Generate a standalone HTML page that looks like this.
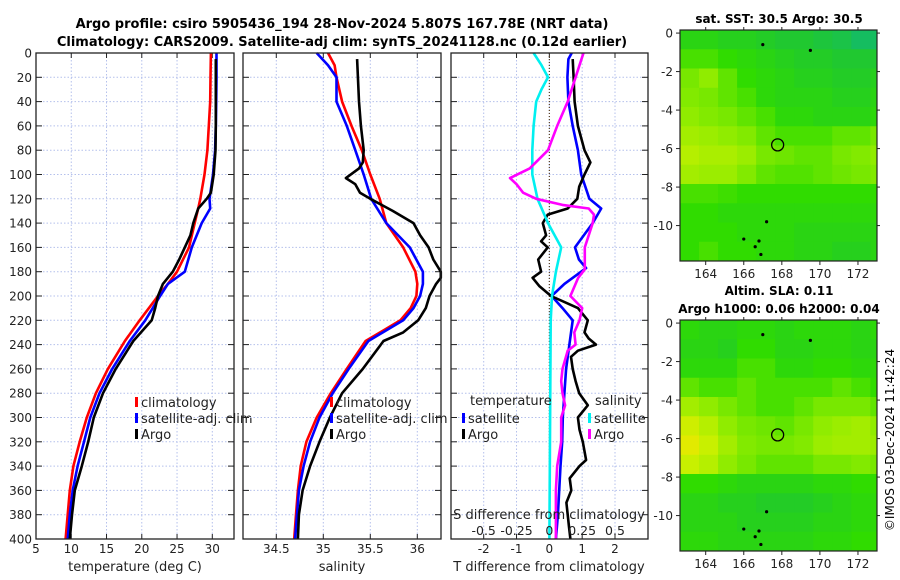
<!DOCTYPE html>
<html><head><meta charset="utf-8"><style>
html,body{margin:0;padding:0;background:#fff;}
svg{display:block;font-family:"DejaVu Sans","Liberation Sans",sans-serif;}
</style></head><body>
<svg id="fig" width="900" height="580" viewBox="0 0 900 580" xmlns="http://www.w3.org/2000/svg">
<text x="342" y="28" text-anchor="middle" font-size="13" font-weight="bold">Argo profile: csiro 5905436_194 28-Nov-2024 5.807S 167.78E (NRT data)</text>
<text x="342" y="46" text-anchor="middle" font-size="13" font-weight="bold">Climatology: CARS2009. Satellite-adj clim: synTS_20241128.nc (0.12d earlier)</text>
<text x="779" y="23" text-anchor="middle" font-size="12" font-weight="bold">sat. SST: 30.5 Argo: 30.5</text>
<text x="779" y="295" text-anchor="middle" font-size="12" font-weight="bold">Altim. SLA: 0.11</text>
<text x="779" y="313" text-anchor="middle" font-size="12" font-weight="bold">Argo h1000: 0.06 h2000: 0.04</text>
<text transform="translate(894,440) rotate(-90)" text-anchor="middle" font-size="12">©IMOS 03-Dec-2024 11:42:24</text>
<g id="plots"></g>
</svg>
<script>
// ---- data ----
const depthClimT = [0,20,40,60,80,100,120,128,140,160,180,190,200,220,237,260,280,300,320,340,360,380,400];
const tempClim = [29.8,29.75,29.7,29.5,29.3,28.9,28.3,28.0,27.5,26.7,25.0,23.7,22.3,19.7,17.6,15.2,13.5,12.2,11.2,10.3,9.8,9.5,9.2];
const tempSat = [30.6,30.6,30.55,30.5,30.4,30.1,29.6,29.7,28.5,27.1,26.1,23.7,22.6,20.5,18.3,15.8,14.0,12.7,11.8,10.9,10.2,9.8,9.5];
const depthArgoT = [5,20,40,60,80,100,115,120,128,140,150,160,170,180,190,200,210,220,237,260,280,300,320,340,360,380,400];
const tempArgo = [30.5,30.5,30.5,30.5,30.45,30.2,29.8,29.2,28.0,27.3,26.9,26.1,25.3,24.4,23.0,22.3,21.9,21.4,18.8,16.3,14.5,13.2,12.4,11.5,10.5,10.1,9.8];

const depthClimS = [0,10,20,40,60,80,100,120,140,160,180,190,200,210,220,237,260,280,300,320,340,360,380,400];
const salClim = [35.05,35.12,35.14,35.2,35.3,35.41,35.5,35.6,35.67,35.85,35.98,36.0,35.99,35.93,35.82,35.45,35.25,35.08,34.93,34.82,34.76,34.73,34.71,34.69];
const salSat = [34.93,35.05,35.14,35.14,35.25,35.34,35.43,35.51,35.67,35.92,36.06,36.06,36.03,35.96,35.85,35.48,35.27,35.1,34.96,34.86,34.79,34.74,34.72,34.70];
const depthArgoS = [5,40,60,80,90,95,103,108,115,120,130,140,150,160,170,180,185,190,200,210,220,230,237,260,280,300,320,340,360,380,400];
const salArgo = [35.36,35.38,35.4,35.43,35.42,35.38,35.24,35.34,35.39,35.5,35.74,35.96,36.03,36.12,36.17,36.25,36.25,36.2,36.13,36.09,36.01,35.85,35.64,35.42,35.2,35.07,34.96,34.86,34.78,34.74,34.73];

const depthSatDT = [0,5,20,40,60,80,100,120,128,140,160,170,177,190,200,210,220,240,260,280,300,320,340,360,380,400];
const satDT = [0.68,0.58,0.55,0.58,0.71,0.87,0.97,1.22,1.58,1.32,0.78,0.9,1.12,0.46,0.07,0.4,0.71,0.61,0.51,0.46,0.41,0.39,0.34,0.3,0.26,0.2];
const depthArgoDT = [5,20,40,60,80,90,100,110,120,128,133,140,150,155,160,170,180,185,192,200,210,220,230,235,240,245,250,260,270,280,290,300,310,320,335,340,350,360,370,380,390,400];
const argoDT = [0.71,0.74,0.77,0.87,1.07,1.25,1.07,0.91,0.85,0.56,-0.05,-0.2,-0.1,-0.25,-0.05,-0.34,-0.25,-0.51,-0.3,0.05,0.87,1.17,1.07,1.2,1.42,0.87,0.66,0.71,0.8,0.91,1.17,0.87,0.92,1.02,1.12,0.92,0.62,0.67,0.52,0.56,0.6,0.64];
const depthSatDS = [0,10,20,30,40,60,80,100,120,140,160,180,200,220,400];
const satDS = [-0.12,-0.06,-0.01,-0.06,-0.1,-0.12,-0.13,-0.13,-0.09,-0.01,0.09,0.05,0.02,0.01,0.0];
const depthArgoDS = [0,10,20,40,60,80,95,103,108,115,120,125,128,133,140,160,170,178,185,200,210,220,230,240,245,260,270,280,290,300,320,340,360,380,400];
const argoDS = [0.26,0.23,0.2,0.14,0.06,-0.01,-0.15,-0.30,-0.25,-0.2,-0.1,0.1,0.3,0.34,0.33,0.27,0.27,0.27,0.22,0.16,0.25,0.23,0.19,0.2,0.14,0.1,0.09,0.1,0.12,0.09,0.09,0.06,0.05,0.05,0.05];

const depthTicks = [0,20,40,60,80,100,120,140,160,180,200,220,240,260,280,300,320,340,360,380,400];
const tempTicks = [5,10,15,20,25,30];
const salTicks = [34.5,35,35.5,36];
const salTickLabels = ["34.5","35","35.5","36"];
const dtTicks = [-2,-1,0,1,2];
const dsTicks = [-0.5,-0.25,0,0.25,0.5];
const dsTickLabels = ["-0.5","-0.25","0","0.25","0.5"];
const lonTicks = [164,166,168,170,172];
const latTicks = [0,-2,-4,-6,-8,-10];

const sstGrid = [
[0.45,0.45,0.4,0.4,0.35,0.3,0.3,0.25,0.2,0.1,0.1],
[0.6,0.6,0.55,0.5,0.45,0.4,0.35,0.35,0.3,0.3,0.3],
[0.7,0.75,0.65,0.55,0.5,0.45,0.4,0.4,0.35,0.35,0.4],
[0.72,0.7,0.65,0.6,0.5,0.45,0.45,0.45,0.4,0.4,0.45],
[0.75,0.72,0.7,0.65,0.6,0.5,0.5,0.45,0.45,0.45,0.5],
[0.8,0.78,0.75,0.72,0.65,0.6,0.6,0.6,0.65,0.65,0.7],
[0.85,0.82,0.82,0.78,0.7,0.68,0.65,0.65,0.7,0.72,0.75],
[0.8,0.78,0.78,0.72,0.65,0.62,0.62,0.65,0.68,0.7,0.72],
[0.6,0.6,0.58,0.55,0.55,0.55,0.55,0.55,0.55,0.55,0.55],
[0.55,0.55,0.5,0.5,0.5,0.5,0.5,0.5,0.5,0.5,0.5],
[0.55,0.55,0.55,0.5,0.5,0.5,0.45,0.45,0.45,0.45,0.45],
[0.55,0.6,0.55,0.55,0.5,0.5,0.45,0.45,0.4,0.4,0.45]];
const slaGrid = [
[0.5,0.45,0.45,0.5,0.5,0.45,0.5,0.5,0.5,0.45,0.5],
[0.45,0.45,0.4,0.55,0.55,0.45,0.45,0.5,0.5,0.45,0.45],
[0.5,0.5,0.5,0.6,0.6,0.5,0.5,0.55,0.55,0.5,0.5],
[0.65,0.6,0.6,0.65,0.6,0.6,0.6,0.6,0.65,0.6,0.55],
[0.8,0.75,0.7,0.65,0.6,0.6,0.65,0.7,0.7,0.7,0.65],
[0.92,0.85,0.75,0.7,0.68,0.65,0.7,0.75,0.78,0.8,0.75],
[0.98,0.9,0.8,0.72,0.7,0.7,0.72,0.78,0.8,0.8,0.78],
[0.9,0.85,0.75,0.7,0.65,0.65,0.65,0.7,0.7,0.72,0.7],
[0.55,0.55,0.5,0.45,0.45,0.45,0.45,0.5,0.5,0.55,0.55],
[0.45,0.45,0.4,0.4,0.35,0.35,0.35,0.4,0.45,0.5,0.5],
[0.45,0.45,0.45,0.4,0.4,0.4,0.4,0.45,0.45,0.5,0.5],
[0.5,0.5,0.45,0.45,0.45,0.45,0.45,0.5,0.5,0.55,0.55]];
const argoLon = [167.78];
const argoLat = [-5.807];

// ---- helpers ----
const NS = "http://www.w3.org/2000/svg";
const root = document.getElementById('plots');
function mk(tag, attrs, parent) {
  const e = document.createElementNS(NS, tag);
  for (const k in attrs) e.setAttribute(k, attrs[k]);
  (parent || root).appendChild(e);
  return e;
}
const Y0 = 53, Y1 = 539;
const yD = d => Y0 + (d / 400) * (Y1 - Y0);
function lin(d0, d1, r0, r1) { return v => r0 + (v - d0) / (d1 - d0) * (r1 - r0); }

function panel(name, x0, x1, xScale, xTickVals, showYLabels) {
  const g = mk('g', {});
  
  
  // grid
  xTickVals.forEach(v => {
    const l = mk('line', {x1: xScale(v), x2: xScale(v), y1: Y0, y2: Y1, stroke: '#b4c0ec', 'stroke-width': 1, 'stroke-dasharray': '1.5,2'}, g);
    
    
    mk('line', {x1: xScale(v), x2: xScale(v), y1: Y1, y2: Y1 - 5, stroke: '#222'}, g);
    mk('line', {x1: xScale(v), x2: xScale(v), y1: Y0, y2: Y0 + 5, stroke: '#222'}, g);
  });
  depthTicks.forEach(d => {
    const l = mk('line', {x1: x0, x2: x1, y1: yD(d), y2: yD(d), stroke: '#b4c0ec', 'stroke-width': 1, 'stroke-dasharray': '1.5,2'}, g);
    
    
    mk('line', {x1: x0, x2: x0 + 6, y1: yD(d), y2: yD(d), stroke: '#222'}, g);
    mk('line', {x1: x1, x2: x1 - 6, y1: yD(d), y2: yD(d), stroke: '#222'}, g);
    if (showYLabels) {
      const t = mk('text', {x: x0 - 4, y: yD(d) + 4.5, 'text-anchor': 'end', 'font-size': 12, fill: '#222'}, g);
      t.textContent = d;
      
      
    }
  });
  return g;
}
function frame(g, x0, x1) {
  const r = mk('rect', {x: x0, y: Y0, width: x1 - x0, height: Y1 - Y0, fill: 'none', stroke: '#222', 'stroke-width': 1.3}, g);
  
  
}
function line(g, name, xs, ds, xScale, color) {
  const pts = xs.map((v, i) => xScale(v).toFixed(1) + ',' + yD(ds[i]).toFixed(1)).join(' ');
  const p = mk('polyline', {points: pts, fill: 'none', stroke: color, 'stroke-width': 2.6, 'stroke-linejoin': 'round'}, g);
  
  
}
function label(g, name, x, y, txt, anchor, size) {
  const t = mk('text', {x: x, y: y, 'text-anchor': anchor || 'middle', 'font-size': size || 12, fill: '#222'}, g);
  t.textContent = txt;
  
  
  return t;
}
function legend(g, x, y, color, txt) {
  const r = mk('rect', {x: x, y: y - 10, width: 3, height: 10, fill: color}, g);
  
  
  label(g, 'legend-entry', x + 6, y, txt, 'start', 13);
}

// ---- temperature panel ----
const xT = lin(5, 30, 36, 212.3);
const gT = panel('temperature-panel', 36, 234, xT, tempTicks, true);
line(gT, 'climatology-temp-line', tempClim, depthClimT, xT, '#ff0000');
line(gT, 'satellite-temp-line', tempSat, depthClimT, xT, '#0000ff');
line(gT, 'argo-temp-line', tempArgo, depthArgoT, xT, '#000000');
frame(gT, 36, 234);
tempTicks.forEach(v => label(gT, 'temp-tick-label', xT(v), 553, v));
label(gT, 'x-axis-title-temperature', 135, 571, 'temperature (deg C)', 'middle', 13);
legend(gT, 135, 407, '#ff0000', 'climatology');
legend(gT, 135, 423, '#0000ff', 'satellite-adj. clim');
legend(gT, 135, 439, '#000000', 'Argo');

// ---- salinity panel ----
const xS = lin(34.5, 36, 276.3, 417.3);
const gS = panel('salinity-panel', 243, 441, xS, salTicks, false);
line(gS, 'climatology-sal-line', salClim, depthClimS, xS, '#ff0000');
line(gS, 'satellite-sal-line', salSat, depthClimS, xS, '#0000ff');
line(gS, 'argo-sal-line', salArgo, depthArgoS, xS, '#000000');
frame(gS, 243, 441);
salTicks.forEach((v, i) => label(gS, 'sal-tick-label', xS(v), 553, salTickLabels[i]));
label(gS, 'x-axis-title-salinity', 342, 571, 'salinity', 'middle', 13);
legend(gS, 330, 407, '#ff0000', 'climatology');
legend(gS, 330, 423, '#0000ff', 'satellite-adj. clim');
legend(gS, 330, 439, '#000000', 'Argo');

// ---- difference panel ----
const xDT = lin(-2, 2, 483.7, 615);
const xDS = lin(-0.5, 0.5, 483.7, 615);
const gD = panel('difference-panel', 451, 648, xDT, dtTicks, false);
const zl = mk('line', {x1: xDT(0), x2: xDT(0), y1: Y0, y2: Y1, stroke: '#5a4020', 'stroke-width': 1.2, 'stroke-dasharray': '1,2'}, gD);


line(gD, 'satellite-temp-diff-line', satDT, depthSatDT, xDT, '#0000ff');
line(gD, 'argo-temp-diff-line', argoDT, depthArgoDT, xDT, '#000000');
line(gD, 'satellite-sal-diff-line', satDS, depthSatDS, xDS, '#00f0f0');
line(gD, 'argo-sal-diff-line', argoDS, depthArgoDS, xDS, '#ff00ff');
frame(gD, 451, 648);
dtTicks.forEach(v => label(gD, 'temp-diff-tick-label', xDT(v), 553, v));
label(gD, 'x-axis-title-temp-diff', 549, 571, 'T difference from climatology', 'middle', 13);
label(gD, 'x-axis-title-sal-diff', 549, 519, 'S difference from climatology', 'middle', 13);
dsTicks.forEach((v, i) => label(gD, 'sal-diff-tick-label', xDS(v), 535, dsTickLabels[i], 'middle', 12.5));
label(gD, 'legend-title-temperature', 470, 405, 'temperature', 'start', 13);
legend(gD, 462, 423, '#0000ff', 'satellite');
legend(gD, 462, 439, '#000000', 'Argo');
label(gD, 'legend-title-salinity', 595, 405, 'salinity', 'start', 13);
legend(gD, 588, 423, '#00f0f0', 'satellite');
legend(gD, 588, 439, '#ff00ff', 'Argo');

// ---- maps ----
const stops = [[0,[16,184,120]],[0.3,[32,200,48]],[0.55,[48,220,0]],[0.75,[144,236,0]],[0.9,[200,240,0]],[1,[232,232,0]]];
function cmap(v) {
  for (let i = 1; i < stops.length; i++) {
    if (v <= stops[i][0]) {
      const a = stops[i-1], b = stops[i], f = (v - a[0]) / (b[0] - a[0]);
      return 'rgb(' + a[1].map((c, k) => Math.round(c + (b[1][k] - c) * f)).join(',') + ')';
    }
  }
  return 'rgb(232,232,0)';
}
function map(name, grid, top, bottom) {
  const g = mk('g', {});
  
  
  const L = 680, R = 877;
  const xL = lin(162.65, 173.0, L, R);
  const yL = lin(0.16, -11.84, top, bottom);
  const clip = mk('clipPath', {id: 'clip-' + name}, g);
  mk('rect', {x: L, y: top, width: R - L, height: bottom - top}, clip);
  const cg = mk('g', {'clip-path': 'url(#clip-' + name + ')'}, g);
  grid.forEach((row, r) => row.forEach((v, c) => {
    const lat0 = 0.16 - r, lon0 = 162.65 + c;
    const cell = mk('rect', {x: xL(lon0), y: yL(lat0), width: xL(lon0 + 1) - xL(lon0) + 0.5, height: yL(lat0 - 1) - yL(lat0) + 0.5, fill: cmap(v)}, cg);
    
    
  }));
  [[166.8,-10.8],[166.0,-10.7],[166.9,-11.5],[166.6,-11.1],[167.0,-0.6],[169.5,-0.9],[167.2,-9.8]].forEach(p => {
    const d = mk('circle', {cx: xL(p[0]), cy: yL(p[1]), r: 1.6, fill: '#000'}, cg);
    
    
  });
  argoLon.forEach((lo, i) => {
    const c = mk('circle', {cx: xL(lo), cy: yL(argoLat[i]), r: 6, fill: 'none', stroke: '#000', 'stroke-width': 1.3}, g);
    
    
  });
  const fr = mk('rect', {x: L, y: top, width: R - L, height: bottom - top, fill: 'none', stroke: '#222', 'stroke-width': 1.2}, g);
  
  
  lonTicks.forEach(v => {
    mk('line', {x1: xL(v), x2: xL(v), y1: bottom, y2: bottom + 4, stroke: '#222'}, g);
    mk('line', {x1: xL(v), x2: xL(v), y1: top, y2: top - 3, stroke: '#222'}, g);
    label(g, 'lon-tick-label', xL(v), bottom + 17, v, 'middle', 12);
  });
  latTicks.forEach(v => {
    mk('line', {x1: L, x2: L - 4, y1: yL(v), y2: yL(v), stroke: '#222'}, g);
    mk('line', {x1: R, x2: R + 3, y1: yL(v), y2: yL(v), stroke: '#222'}, g);
    label(g, 'lat-tick-label', L - 7, yL(v) + 4.5, v, 'end', 12);
  });
}
map('sst-map', sstGrid, 30, 261);
map('sla-map', slaGrid, 320, 551);
</script>
</body></html>
